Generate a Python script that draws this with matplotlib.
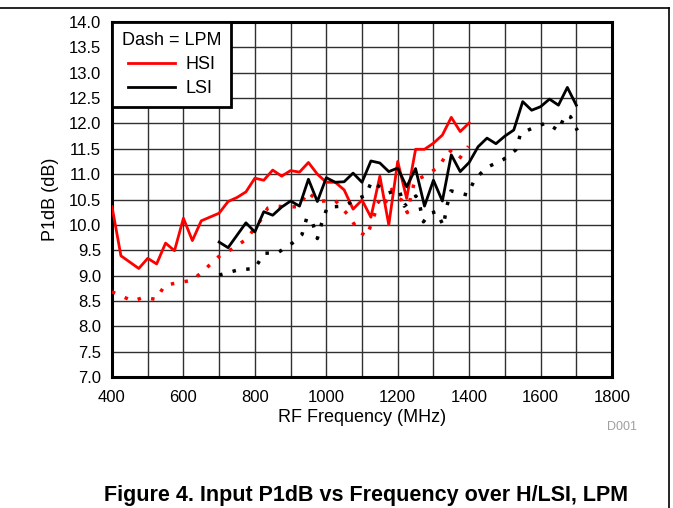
import matplotlib
matplotlib.use('Agg')
import matplotlib.pyplot as plt
from matplotlib.lines import Line2D
from matplotlib.ticker import MultipleLocator

plt.rcParams['font.family'] = ['Liberation Sans', 'DejaVu Sans']

# HSI, normal power mode (solid red)
hsi_freq = [400, 425, 475, 500, 525, 550, 575, 600, 625, 650, 700, 725, 750, 775, 800,
            825, 850, 875, 900, 925, 950, 975, 1000, 1025, 1050, 1075, 1100, 1125, 1150,
            1175, 1200, 1225, 1250, 1275, 1300, 1325, 1350, 1375, 1400]
hsi_p1db = [10.36, 9.39, 9.14, 9.34, 9.23, 9.64, 9.49, 10.13, 9.69, 10.08, 10.23, 10.46,
            10.54, 10.65, 10.92, 10.88, 11.08, 10.96, 11.07, 11.04, 11.23, 11.00, 10.84,
            10.84, 10.69, 10.31, 10.49, 10.15, 10.96, 10.00, 11.25, 10.52, 11.49, 11.49,
            11.61, 11.77, 12.12, 11.84, 12.01]

# HSI, LPM (dotted red)
hsi_lpm_freq = [400, 457, 490, 523, 548, 586, 626, 663, 698, 735, 773, 808, 836, 861, 889,
                924, 948, 978, 1024, 1064, 1090, 1113, 1132, 1146, 1160, 1183, 1195, 1211,
                1227, 1237, 1248, 1281, 1316, 1344, 1372, 1398]
hsi_lpm_p1db = [8.68, 8.50, 8.57, 8.53, 8.81, 8.86, 8.91, 9.14, 9.37, 9.52, 9.70, 10.00,
                10.33, 10.37, 10.35, 10.36, 10.65, 10.46, 10.49, 10.17, 9.88, 9.77, 10.13,
                10.46, 10.35, 10.70, 10.54, 10.49, 10.24, 10.57, 10.88, 10.98, 11.15, 11.48,
                11.30, 11.55]

# LSI, normal power mode (solid black)
lsi_freq = [700, 725, 775, 800, 825, 850, 875, 900, 925, 950, 975, 1000, 1025, 1050, 1075,
            1100, 1125, 1150, 1175, 1200, 1225, 1250, 1275, 1300, 1325, 1350, 1375, 1400,
            1425, 1450, 1475, 1500, 1525, 1550, 1575, 1600, 1625, 1650, 1675, 1700]
lsi_p1db = [9.66, 9.55, 10.04, 9.86, 10.26, 10.19, 10.35, 10.47, 10.37, 10.90, 10.46, 10.93,
            10.84, 10.85, 11.02, 10.84, 11.26, 11.22, 11.05, 11.12, 10.75, 11.11, 10.37,
            10.88, 10.47, 11.38, 11.05, 11.23, 11.54, 11.71, 11.60, 11.75, 11.87, 12.43,
            12.26, 12.33, 12.48, 12.36, 12.71, 12.36]

# LSI, LPM (dotted black)
lsi_lpm_freq = [700, 752, 800, 826, 864, 905, 932, 945, 959, 975, 987, 1003, 1050, 1085,
                1110, 1127, 1174, 1204, 1218, 1234, 1251, 1262, 1272, 1290, 1309, 1328,
                1337, 1349, 1395, 1416, 1449, 1496, 1531, 1544, 1575, 1616, 1650, 1669,
                1684, 1703]
lsi_lpm_p1db = [9.01, 9.11, 9.14, 9.44, 9.45, 9.64, 9.81, 10.13, 10.10, 9.73, 10.03, 10.35,
                10.37, 10.51, 10.58, 10.86, 10.63, 10.69, 10.37, 10.46, 10.57, 10.37, 10.06,
                10.23, 10.26, 9.98, 10.35, 10.67, 10.59, 10.90, 11.13, 11.29, 11.48, 11.80,
                11.90, 12.01, 11.86, 12.17, 12.13, 11.86]

fig = plt.figure(figsize=(6.73, 5.08), dpi=100)
ax = fig.add_axes([112 / 673, 1 - 377 / 508, 500 / 673, 355 / 508])

dot = (0, (1, 3))
ax.plot(hsi_freq, hsi_p1db, color='#ff0000', lw=2, zorder=3)
ax.plot(hsi_lpm_freq, hsi_lpm_p1db, color='#ff0000', lw=2.5, ls=dot, zorder=3)
ax.plot(lsi_freq, lsi_p1db, color='black', lw=2, zorder=3)
ax.plot(lsi_lpm_freq, lsi_lpm_p1db, color='black', lw=2.5, ls=dot, zorder=3)

ax.set_xlim(400, 1800)
ax.set_ylim(7, 14)
ax.xaxis.set_major_locator(MultipleLocator(200))
ax.xaxis.set_minor_locator(MultipleLocator(100))
ax.yaxis.set_major_locator(MultipleLocator(0.5))
ax.yaxis.set_major_formatter(matplotlib.ticker.FormatStrFormatter('%.1f'))
ax.grid(True, which='both', color='#303030', lw=1)
ax.set_axisbelow(True)
ax.tick_params(which='both', length=0, labelsize=12)
ax.tick_params(axis='x', pad=9)
ax.tick_params(axis='y', pad=8)
for s in ax.spines.values():
    s.set_linewidth(2.2)

ax.set_xlabel('RF Frequency (MHz)', fontsize=13, labelpad=3)
ax.set_ylabel('P1dB (dB)', fontsize=13, labelpad=7)

handles = [Line2D([], [], color='#ff0000', lw=2), Line2D([], [], color='black', lw=2)]
leg = ax.legend(handles, ['HSI', 'LSI'], title='Dash = LPM', loc='upper left',
                borderaxespad=0, fancybox=False, framealpha=1, edgecolor='black',
                fontsize=13, title_fontsize=13, handlelength=2.6, handletextpad=0.6,
                labelspacing=0.4, borderpad=0.55)
leg.get_frame().set_linewidth(2)

fig.text(622 / 673, 1 - 427 / 508, 'D001', color='#a0a0a0', fontsize=9,
         ha='center', va='center')
fig.text(366 / 673, 1 - 495 / 508, 'Figure 4. Input P1dB vs Frequency over H/LSI, LPM',
         fontsize=15.5, fontweight='bold', ha='center', va='center')

# outer frame (top and right edges)
fig.add_artist(Line2D([0, 669 / 673], [1 - 8 / 508, 1 - 8 / 508], color='black', lw=1.2,
                      transform=fig.transFigure))
fig.add_artist(Line2D([669 / 673, 669 / 673], [1 - 8 / 508, 0], color='black', lw=1.2,
                      transform=fig.transFigure))

fig.savefig('out.png', dpi=100)
